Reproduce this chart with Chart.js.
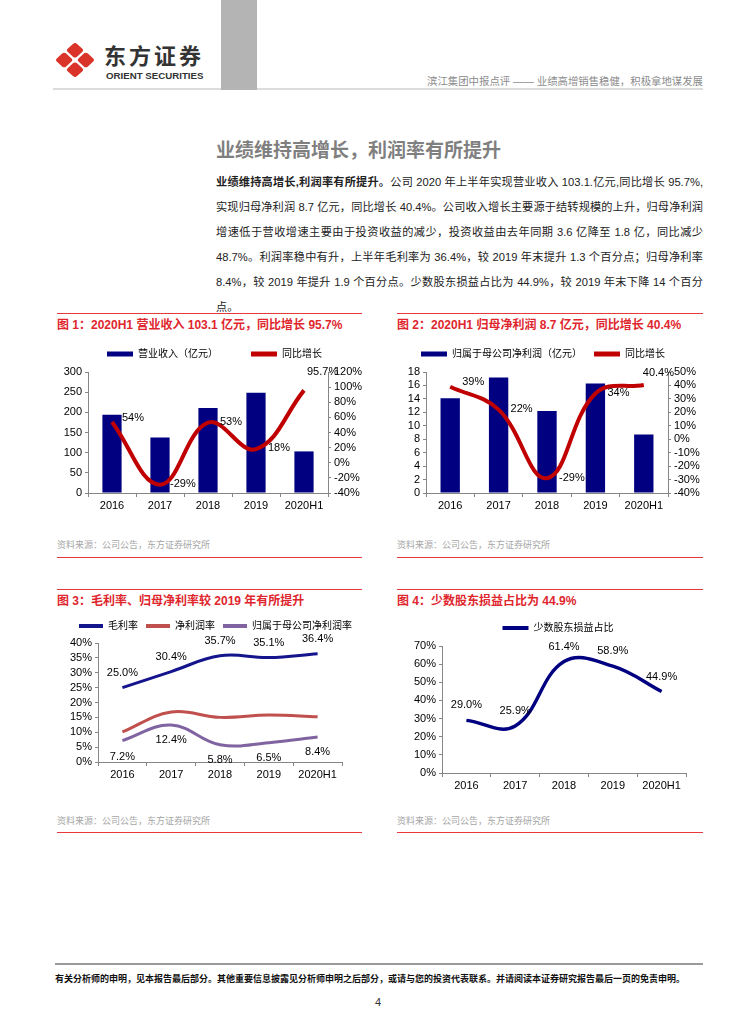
<!DOCTYPE html>
<html>
<head>
<meta charset="utf-8">
<script src="https://cdn.jsdelivr.net/npm/chart.js@4.4.0/dist/chart.umd.min.js"></script>
<style>
  body { margin: 0; background: #fff; width: 755px; height: 1024px; position: relative; overflow: hidden;
         font-family: "Liberation Sans", "Noto Sans CJK SC", sans-serif; color: #222; }
  .abs { position: absolute; }
  .redline { position: absolute; height: 1px; background: #e8383d; }
  .ctitle { position: absolute; color: #e0262d; font-weight: bold; font-size: 12px; line-height: 14px; white-space: nowrap; }
  .src { position: absolute; color: #a6a6a6; font-size: 9px; line-height: 10px; white-space: nowrap; }
  .para div { width: 487px; height: 25px; line-height: 25px; font-size: 11.2px; text-align: justify; text-align-last: justify; }
  canvas { position: absolute; }
</style>
</head>
<body>

<!-- header -->
<svg class="abs" style="left:55px;top:42px" width="40" height="36" viewBox="-20 -18 40 36">
  <g transform="scale(0.96,0.86) rotate(45)" fill="#d9332a">
    <rect x="-14.75" y="-14.75" width="13.5" height="13.5" rx="3"/>
    <rect x="1.25" y="-14.75" width="13.5" height="13.5" rx="3"/>
    <rect x="-14.75" y="1.25" width="13.5" height="13.5" rx="3"/>
    <rect x="1.25" y="1.25" width="13.5" height="13.5" rx="3"/>
  </g>
</svg>
<div class="abs" style="left:104px;top:43px;font-size:22px;line-height:28px;font-weight:bold;color:#333;letter-spacing:3px">东方证券</div>
<div class="abs" style="left:106px;top:70px;font-size:9.7px;line-height:11px;font-weight:bold;color:#333;">ORIENT SECURITIES</div>
<div class="abs" style="left:53px;top:88px;width:650px;height:2px;background:#dcdcdc"></div>
<div class="abs" style="left:221px;top:0;width:36px;height:90px;background:#b4b4b4"></div>
<div class="abs" style="right:52px;top:76px;font-size:10.4px;line-height:12px;color:#8c8c8c;white-space:nowrap">滨江集团中报点评 —— 业绩高增销售稳健，积极拿地谋发展</div>

<!-- section title and text -->
<div class="abs" style="left:216px;top:139px;font-size:19px;line-height:24px;font-weight:bold;color:#7f7f7f">业绩维持高增长，利润率有所提升</div>
<div class="abs para" style="left:216px;top:170px">
  <div><b>业绩维持高增长,利润率有所提升。</b>公司 2020 年上半年实现营业收入 103.1.亿元,同比增长 95.7%,</div>
  <div>实现归母净利润 8.7 亿元，同比增长 40.4%。公司收入增长主要源于结转规模的上升，归母净利润</div>
  <div>增速低于营收增速主要由于投资收益的减少，投资收益由去年同期 3.6 亿降至 1.8 亿，同比减少</div>
  <div>48.7%。利润率稳中有升，上半年毛利率为 36.4%，较 2019 年末提升 1.3 个百分点；归母净利率</div>
  <div>8.4%，较 2019 年提升 1.9 个百分点。少数股东损益占比为 44.9%，较 2019 年末下降 14 个百分</div>
  <div style="text-align-last:left">点。</div>
</div>

<!-- chart frames -->
<div class="redline" style="left:57px;top:313px;width:305px"></div>
<div class="redline" style="left:397px;top:313px;width:306px"></div>
<div class="ctitle" style="left:57px;top:318px">图 1：2020H1 营业收入 103.1 亿元，同比增长 95.7%</div>
<div class="ctitle" style="left:397px;top:318px">图 2：2020H1 归母净利润 8.7 亿元，同比增长 40.4%</div>
<div class="src" style="left:57px;top:540px">资料来源：公司公告，东方证券研究所</div>
<div class="src" style="left:397px;top:540px">资料来源：公司公告，东方证券研究所</div>
<div class="redline" style="left:57px;top:557px;width:305px"></div>
<div class="redline" style="left:397px;top:557px;width:306px"></div>

<div class="redline" style="left:57px;top:589px;width:305px"></div>
<div class="redline" style="left:397px;top:589px;width:306px"></div>
<div class="ctitle" style="left:57px;top:594px">图 3：毛利率、归母净利率较 2019 年有所提升</div>
<div class="ctitle" style="left:397px;top:594px">图 4：少数股东损益占比为 44.9%</div>
<div class="src" style="left:57px;top:816px">资料来源：公司公告，东方证券研究所</div>
<div class="src" style="left:397px;top:816px">资料来源：公司公告，东方证券研究所</div>
<div class="redline" style="left:57px;top:832px;width:305px"></div>
<div class="redline" style="left:397px;top:832px;width:306px"></div>

<canvas id="c1" width="309" height="199" style="left:57px;top:316px"></canvas>
<canvas id="c2" width="306" height="178" style="left:397px;top:337px"></canvas>
<canvas id="c3" width="305" height="171" style="left:57px;top:613px"></canvas>
<canvas id="c4" width="306" height="180" style="left:397px;top:615px"></canvas>

<!-- footer -->
<div class="abs" style="left:55px;top:963px;width:648px;height:2px;background:#9a9a9a"></div>
<div class="abs" style="left:55px;top:973px;font-size:9px;line-height:12px;font-weight:bold;color:#111;white-space:nowrap">有关分析师的申明，见本报告最后部分。其他重要信息披露见分析师申明之后部分，或请与您的投资代表联系。并请阅读本证券研究报告最后一页的免责申明。</div>
<div class="abs" style="left:375px;top:995px;font-size:11px;line-height:14px;color:#333">4</div>

<script>
const years = ['2016', '2017', '2018', '2019', '2020H1'];

// 图1 营业收入（亿元）与同比增长
const revenue = [194, 137.7, 210.7, 248.6, 103.1];
const revenueYoY = [54, -29, 53, 18, 95.7];

// 图2 归母净利润（亿元）与同比增长
const netProfit = [14.1, 17.2, 12.2, 16.3, 8.7];
const netProfitYoY = [39, 22, -29, 34, 40.4];

// 图3 利润率
const grossMargin = [25.0, 30.4, 35.7, 35.1, 36.4];
const netMargin = [10.1, 16.8, 15.0, 15.8, 15.2];
const parentNetMargin = [7.2, 12.4, 5.8, 6.5, 8.4];

// 图4 少数股东损益占比
const minorityShare = [29.0, 25.9, 61.4, 58.9, 44.9];

const FONT = '"Liberation Sans", "Noto Sans CJK SC", sans-serif';
const AXIS = '#868686';
const NAVY = '#000080';
const RED = '#c00000';

Chart.defaults.font.family = FONT;
Chart.defaults.font.size = 11;
Chart.defaults.color = '#000';
Chart.defaults.animation = false;

const pct0 = v => v + '%';
const pct1 = v => v.toFixed(1) + '%';

// fixed legend height (so the plot area lands where it should), legend centred on cx
function legendBox(h, cx) {
  return {
    id: 'legendBox',
    afterInit(chart) {
      const legend = chart.legend;
      const fit = legend.fit;
      legend.fit = function () {
        this.maxWidth = 1000;   // keep all items on one row
        fit.call(this);
        this.height = h;
      };
    },
    afterLayout(chart) {
      chart.legend.left = cx - 500;
      chart.legend.right = cx + 500;
    }
  };
}

// value labels next to line points
function pointLabels(sets) {
  return {
    id: 'pointLabels',
    afterDatasetsDraw(chart) {
      const ctx = chart.ctx;
      ctx.save();
      ctx.font = '11px ' + FONT;
      ctx.fillStyle = '#000';
      ctx.textBaseline = 'middle';
      sets.forEach(set => {
        const meta = chart.getDatasetMeta(set.dataset);
        const values = chart.data.datasets[set.dataset].data;
        meta.data.forEach((pt, i) => {
          const off = set.offsets[i];
          ctx.textAlign = off[2] || 'center';
          ctx.fillText(set.format(values[i]), pt.x + off[0], pt.y + off[1]);
        });
      });
      ctx.restore();
    }
  };
}

function flatLegend(chart) {
  return Chart.defaults.plugins.legend.labels.generateLabels(chart).map(item => {
    const ds = chart.data.datasets[item.datasetIndex];
    const c = (ds.type || chart.config.type) === 'line' ? ds.borderColor : ds.backgroundColor;
    return Object.assign(item, { fillStyle: c, strokeStyle: c, lineWidth: 0 });
  });
}

function legend(pad, boxW, boxH) {
  return {
    position: 'top',
    labels: {
      boxWidth: boxW, boxHeight: boxH, padding: pad,
      font: { size: 10 }, color: '#000',
      generateLabels: flatLegend,
      sort: (a, b) => a.datasetIndex - b.datasetIndex
    }
  };
}

function yAxis(position, min, max, step, width, fmt) {
  return {
    position, min, max,
    ticks: { stepSize: step, padding: 3, autoSkip: false, callback: fmt || (v => v) },
    grid: { drawOnChartArea: false, tickLength: 3, color: AXIS },
    border: { color: AXIS },
    afterFit: s => { s.width = width; }
  };
}

function xAxis() {
  return {
    offset: true,
    ticks: { padding: 2, maxRotation: 0, autoSkip: false },
    grid: { offset: true, drawOnChartArea: false, tickLength: 4, color: AXIS },
    border: { color: AXIS },
    afterFit: s => { s.height = 22; }
  };
}

// 图1
new Chart(document.getElementById('c1'), {
  type: 'bar',
  data: {
    labels: years,
    datasets: [
      { label: '营业收入（亿元）', data: revenue, backgroundColor: NAVY, yAxisID: 'y',
        barPercentage: 0.4, categoryPercentage: 1, order: 1 },
      { type: 'line', label: '同比增长', data: revenueYoY, borderColor: RED, backgroundColor: RED,
        borderWidth: 4, pointRadius: 0, tension: 0.4, yAxisID: 'y1', order: 0 }
    ]
  },
  options: {
    responsive: false,
    plugins: { legend: legend(33, 26, 5), tooltip: { enabled: false } },
    scales: {
      x: xAxis(),
      y: yAxis('left', 0, 300, 50, 31),
      y1: yAxis('right', -40, 120, 20, 38, pct0)
    }
  },
  plugins: [legendBox(56, 157.5), pointLabels([
    { dataset: 1, format: pct0, offsets: [[10, -4, 'left'], [10, -1, 'left'], [12, -1, 'left'], [12, -1, 'left'], [3, -18, 'left']] }
  ])]
});

// 图2
new Chart(document.getElementById('c2'), {
  type: 'bar',
  data: {
    labels: years,
    datasets: [
      { label: '归属于母公司净利润（亿元）', data: netProfit, backgroundColor: NAVY, yAxisID: 'y',
        barPercentage: 0.4, categoryPercentage: 1, order: 1 },
      { type: 'line', label: '同比增长', data: netProfitYoY, borderColor: RED, backgroundColor: RED,
        borderWidth: 4, pointRadius: 0, tension: 0.4, yAxisID: 'y1', order: 0 }
    ]
  },
  options: {
    responsive: false,
    plugins: { legend: legend(12, 26, 5), tooltip: { enabled: false } },
    scales: {
      x: xAxis(),
      y: yAxis('left', 0, 18, 2, 29),
      y1: yAxis('right', -40, 50, 10, 35, pct0)
    }
  },
  plugins: [legendBox(35, 146), pointLabels([
    { dataset: 1, format: pct0, offsets: [[12, -5, 'left'], [12, -1, 'left'], [12, 0, 'left'], [12, -1, 'left'], [-1, -12, 'left']] }
  ])]
});

// 图3
new Chart(document.getElementById('c3'), {
  type: 'line',
  data: {
    labels: years,
    datasets: [
      { label: '毛利率', data: grossMargin, borderColor: '#14148c', backgroundColor: '#14148c',
        borderWidth: 3, pointRadius: 0, tension: 0.4 },
      { label: '净利润率', data: netMargin, borderColor: '#c0504d', backgroundColor: '#c0504d',
        borderWidth: 3, pointRadius: 0, tension: 0.4 },
      { label: '归属于母公司净利润率', data: parentNetMargin, borderColor: '#8064a2', backgroundColor: '#8064a2',
        borderWidth: 3, pointRadius: 0, tension: 0.4 }
    ]
  },
  options: {
    responsive: false,
    layout: { padding: { right: 20 } },
    plugins: { legend: legend(8, 24, 4), tooltip: { enabled: false } },
    scales: {
      x: xAxis(),
      y: yAxis('left', 0, 40, 5, 41, pct0)
    }
  },
  plugins: [legendBox(30, 158.5), pointLabels([
    { dataset: 0, format: pct1, offsets: [[0, -15], [0, -15], [0, -15], [0, -15], [0, -15]] },
    { dataset: 2, format: pct1, offsets: [[0, 16], [0, 15], [0, 15], [0, 15], [0, 15]] }
  ])]
});

// 图4
new Chart(document.getElementById('c4'), {
  type: 'line',
  data: {
    labels: years,
    datasets: [
      { label: '少数股东损益占比', data: minorityShare, borderColor: NAVY, backgroundColor: NAVY,
        borderWidth: 3.5, pointRadius: 0, tension: 0.4 }
    ]
  },
  options: {
    responsive: false,
    layout: { padding: { right: 17 } },
    plugins: { legend: legend(8, 26, 4), tooltip: { enabled: false } },
    scales: {
      x: xAxis(),
      y: yAxis('left', 0, 70, 10, 45, pct0)
    }
  },
  plugins: [legendBox(31, 161), pointLabels([
    { dataset: 0, format: pct1, offsets: [[0, -15], [0, -15], [0, -15], [0, -15], [0, -15]] }
  ])]
});
</script>
</body>
</html>
